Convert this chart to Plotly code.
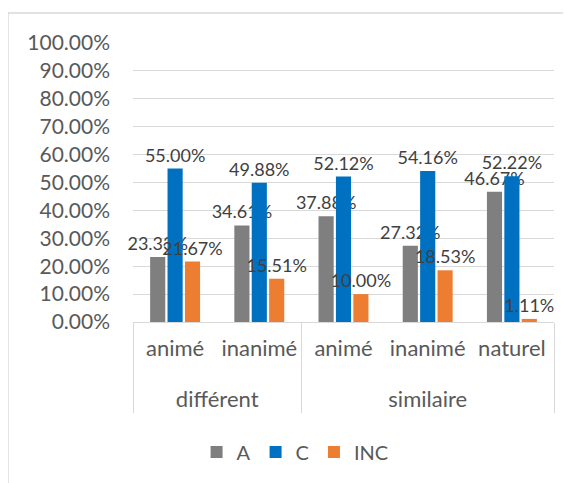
import plotly.graph_objects as go

groups = ["différent", "différent", "similaire", "similaire", "similaire"]
subcats = ["animé", "inanimé", "animé", "inanimé", "naturel"]
series_names = ["A", "C", "INC"]
vals_A = [0.2333, 0.3461, 0.3788, 0.2732, 0.4667]
vals_C = [0.5500, 0.4988, 0.5212, 0.5416, 0.5222]
vals_INC = [0.2167, 0.1551, 0.1000, 0.1853, 0.0111]
colors = ["#7f7f7f", "#0070c0", "#ed7d31"]

FONT = "Lato"
TXT = "#595959"

# pad inner labels with an empty line so the outer level sits lower (as in Excel)
inner = [s + "<br> " for s in subcats]

fig = go.Figure()
for name, vals, col in zip(series_names, [vals_A, vals_C, vals_INC], colors):
    fig.add_trace(go.Bar(
        name=name, x=[groups, inner], y=vals,
        marker=dict(color=col, line=dict(width=0)),
        text=[f"{v*100:.2f}%" for v in vals],
        textposition="outside", constraintext="none", cliponaxis=False,
        textfont=dict(family=FONT, size=18, color="#404040"),
    ))

fig.update_layout(
    width=571, height=483,
    margin=dict(l=125, r=25, t=35, b=169, autoexpand=False),
    paper_bgcolor="white", plot_bgcolor="white",
    barmode="group", bargap=0.38, bargroupgap=0.13,
    font=dict(family=FONT, color=TXT),
    showlegend=True,
    legend=dict(orientation="h", x=0.385, xanchor="center", y=-0.466, yanchor="middle",
                font=dict(family=FONT, size=20, color=TXT), itemwidth=30),
    yaxis=dict(range=[0, 1], dtick=0.1, tickformat=".2%", showgrid=True, automargin=False,
               gridcolor="#d9d9d9", gridwidth=1, zeroline=False, showline=False,
               tickfont=dict(family=FONT, size=21, color=TXT), ticklabelstandoff=22),
    xaxis=dict(type="multicategory", showline=True, linecolor="#d9d9d9", linewidth=1,
               automargin=False, ticklabelstandoff=7,
               showdividers=True, dividercolor="#d9d9d9", dividerwidth=1,
               tickfont=dict(family=FONT, size=22, color=TXT)),
    shapes=[dict(type="rect", xref="paper", yref="paper", x0=-0.297, x1=1.2,
                 y0=-0.7, y1=1.1075, line=dict(color="#d9d9d9", width=1.5), layer="below")],
)
fig.write_html("out.html")
